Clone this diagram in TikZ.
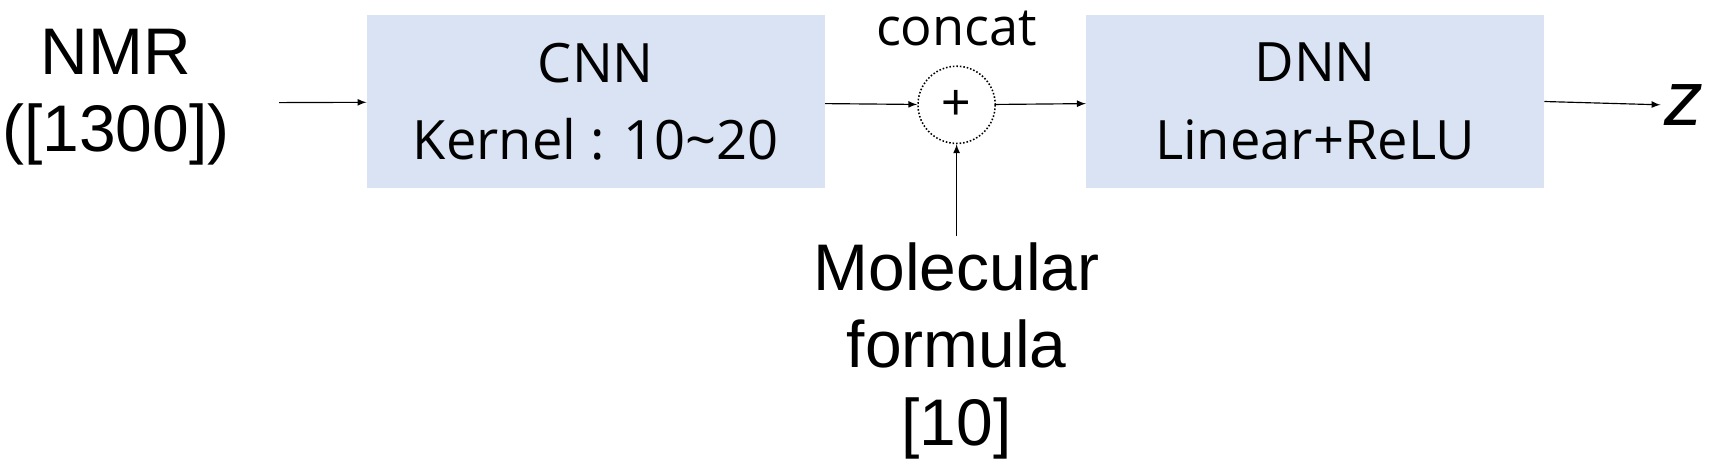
\documentclass[tikz,border=0pt]{standalone}
\usepackage{fontspec}
\setmainfont{Liberation Sans}
\newfontfamily\boxfont{Open Sans}
\usetikzlibrary{positioning}

\begin{document}
\begin{tikzpicture}[x=0.02cm,y=-0.02cm,
  blk/.style={fill=boxblue, minimum width=8.3cm, minimum height=3.14cm, align=center, font=\boxfont\fontsize{28}{40}\selectfont},
  big/.style={align=center, font=\fontsize{34}{40}\selectfont},
  arr/.style={-latex, semithick}]
\definecolor{boxblue}{RGB}{218,227,243}
\useasboundingbox (0,0) rectangle (1568,429);
\node [big] (nmr) at (105,88) {NMR\\([1300])};
\coordinate (nmrout) at (253,93);
\node [blk] (cnn) at (540,92) {CNN\\Kernel : 10\textasciitilde 20};
\node [draw, densely dotted, thick, circle, minimum size=1.4cm, font=\fontsize{26}{26}\selectfont] (cat) at (867,95) {+};
\node [font=\boxfont\fontsize{27}{30}\selectfont] (lab) at (867,26) {concat};
\node [blk] (dnn) at (1192,92) {DNN\\Linear+ReLU};
\node [font=\fontsize{40}{40}\selectfont\itshape, anchor=west, inner sep=2pt] (z) at (1505,95) {z};
\node [big] (mol) at (867,318) {Molecular\\formula\\{}[10]};
\draw [arr] (nmrout) -- (cnn);
\draw [arr] (cnn) -- (cat);
\draw [arr] (cat) -- (dnn);
\draw [arr] (dnn.east) -- (z.west);
\draw [arr] (mol.north) -- (cat);
\end{tikzpicture}
\end{document}
